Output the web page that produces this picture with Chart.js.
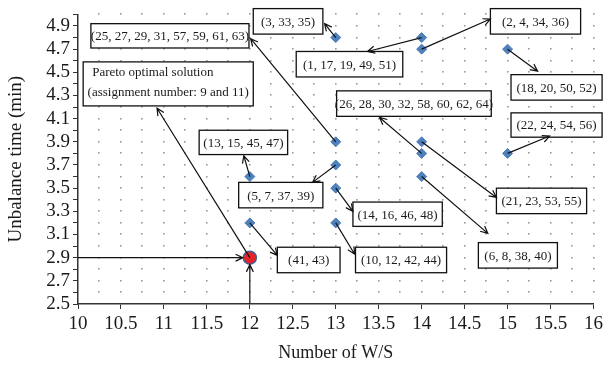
<!DOCTYPE html>
<html>
<head>
<meta charset="utf-8">
<script src="https://cdn.jsdelivr.net/npm/chart.js@4.4.0/dist/chart.umd.min.js"></script>
<style>
  html, body { margin: 0; padding: 0; background: #fff; }
</style>
</head>
<body>
<canvas id="chart" width="607" height="368"></canvas>
<script>
// ============ 数据 ============
// 每个菱形点：工作站数量 / 不平衡时间 / 对应的分配编号
const wsCounts  = [13, 13, 14, 14, 15, 14, 15, 12, 13, 13, 13, 12, 14, 14];
const unbalance = [4.8, 3.9, 4.8, 4.7, 4.7, 3.8, 3.8, 3.6, 3.7, 3.5, 3.2, 3.2, 3.9, 3.6];
const assignLabels = [
  "(3, 33, 35)",
  "(25, 27, 29, 31, 57, 59, 61, 63)",
  "(1, 17, 19, 49, 51)",
  "(2, 4, 34, 36)",
  "(18, 20, 50, 52)",
  "(26, 28, 30, 32, 58, 60, 62, 64)",
  "(22, 24, 54, 56)",
  "(13, 15, 45, 47)",
  "(5, 7, 37, 39)",
  "(14, 16, 46, 48)",
  "(10, 12, 42, 44)",
  "(41, 43)",
  "(21, 23, 53, 55)",
  "(6, 8, 38, 40)"
];

// Pareto 最优解
const paretoWs = [12];
const paretoUnbalance = [2.9];
const paretoLabel = ["Pareto optimal solution", "(assignment number: 9 and 11)"];

// 坐标轴
const xTicks = [10, 10.5, 11, 11.5, 12, 12.5, 13, 13.5, 14, 14.5, 15, 15.5, 16];
const yTickLabels = [2.5, 2.7, 2.9, 3.1, 3.3, 3.5, 3.7, 3.9, 4.1, 4.3, 4.5, 4.7, 4.9];

// ============ 标注框布局（数据坐标：x1, x2, yTop, yBottom / 箭头终点） ============
const calloutBoxes = [
  [12.04, 12.85, 5.05, 4.83],
  [10.15, 11.99, 4.92, 4.71],
  [12.54, 13.78, 4.68, 4.46],
  [14.80, 15.85, 5.05, 4.83],
  [15.04, 16.10, 4.48, 4.26],
  [13.01, 14.81, 4.34, 4.12],
  [15.04, 16.10, 4.15, 3.94],
  [11.41, 12.44, 4.00, 3.79],
  [11.87, 12.85, 3.55, 3.33],
  [13.20, 14.24, 3.38, 3.17],
  [13.23, 14.29, 2.99, 2.77],
  [12.32, 13.05, 2.99, 2.77],
  [14.87, 15.92, 3.50, 3.28],
  [14.66, 15.58, 3.03, 2.81]
];
const calloutTips = [
  [12.87, 4.92], [12.01, 4.79], [13.37, 4.68], [14.80, 4.96], [15.35, 4.51],
  [13.51, 4.11], [15.49, 3.95], [11.93, 3.78], [12.73, 3.55], [13.20, 3.30],
  [13.22, 2.93], [12.32, 2.92], [14.87, 3.42], [14.77, 3.11]
];
const paretoBox = [10.06, 12.04, 4.59, 4.21];
const paretoTip = [10.92, 4.19];

const SERIF = "'Liberation Serif', 'DejaVu Serif', serif";

// 画箭头（开口 V 形）
function arrow(ctx, x1, y1, x2, y2) {
  const a = Math.atan2(y2 - y1, x2 - x1);
  const len = 8, spread = 0.45;
  ctx.beginPath();
  ctx.moveTo(x1, y1);
  ctx.lineTo(x2, y2);
  ctx.moveTo(x2 - len * Math.cos(a - spread), y2 - len * Math.sin(a - spread));
  ctx.lineTo(x2, y2);
  ctx.lineTo(x2 - len * Math.cos(a + spread), y2 - len * Math.sin(a + spread));
  ctx.stroke();
}

function drawBox(ctx, x, y, b) {
  const l = x.getPixelForValue(b[0]), r = x.getPixelForValue(b[1]);
  const t = y.getPixelForValue(b[2]), btm = y.getPixelForValue(b[3]);
  ctx.fillStyle = "#fff";
  ctx.fillRect(l, t, r - l, btm - t);
  ctx.strokeStyle = "#111";
  ctx.lineWidth = 1.3;
  ctx.strokeRect(l, t, r - l, btm - t);
  return { l, r, t, btm };
}

// 点状网格
const dotGrid = {
  id: "dotGrid",
  beforeDatasetsDraw(chart) {
    const { ctx, scales: { x, y } } = chart;
    ctx.save();
    ctx.fillStyle = "#9a9a9a";
    for (let i = 1; i <= 24; i++) {
      const px = x.getPixelForValue(10 + i * 0.25);
      for (let j = 1; j <= 25; j++) {
        const py = y.getPixelForValue(2.5 + j * 0.1);
        ctx.fillRect(Math.round(px) - 1, Math.round(py) - 1, 1.6, 1.6);
      }
    }
    ctx.restore();
  }
};

// 标注框与箭头
const callouts = {
  id: "callouts",
  afterDatasetsDraw(chart) {
    const { ctx, scales: { x, y } } = chart;
    ctx.save();
    ctx.font = "13px " + SERIF;
    ctx.textBaseline = "middle";

    calloutBoxes.forEach((b, i) => {
      const r = drawBox(ctx, x, y, b);
      ctx.fillStyle = "#1a1a1a";
      ctx.textAlign = "center";
      ctx.fillText(assignLabels[i], (r.l + r.r) / 2, (r.t + r.btm) / 2 + 1);
    });

    const pb = drawBox(ctx, x, y, paretoBox);
    ctx.fillStyle = "#1a1a1a";
    ctx.textAlign = "left";
    ctx.fillText(paretoLabel[0], pb.l + 9, pb.t + 11);
    ctx.textAlign = "center";
    ctx.fillText(paretoLabel[1], (pb.l + pb.r) / 2, pb.t + 31);

    ctx.strokeStyle = "#111";
    ctx.lineWidth = 1.2;
    calloutTips.forEach((tip, i) => {
      arrow(ctx,
        x.getPixelForValue(wsCounts[i]), y.getPixelForValue(unbalance[i]),
        x.getPixelForValue(tip[0]), y.getPixelForValue(tip[1]));
    });

    const px = x.getPixelForValue(paretoWs[0]);
    const py = y.getPixelForValue(paretoUnbalance[0]);
    arrow(ctx, px, py, x.getPixelForValue(paretoTip[0]), y.getPixelForValue(paretoTip[1]));
    arrow(ctx, chart.chartArea.left, py, px - 7, py);
    arrow(ctx, px, chart.chartArea.bottom, px, py + 7);
    ctx.restore();
  }
};

new Chart(document.getElementById("chart"), {
  type: "scatter",
  data: {
    datasets: [
      {
        data: wsCounts.map((v, i) => ({ x: v, y: unbalance[i] })),
        pointStyle: "rectRot",
        radius: 5,
        backgroundColor: "#4f81bd",
        borderColor: "#4a7ab5",
        borderWidth: 1
      },
      {
        data: paretoWs.map((v, i) => ({ x: v, y: paretoUnbalance[i] })),
        pointStyle: "circle",
        radius: 6.5,
        backgroundColor: "#e52429",
        borderColor: "#3d5f96",
        borderWidth: 1.5
      }
    ]
  },
  options: {
    responsive: false,
    animation: false,
    devicePixelRatio: 1,
    layout: { padding: { top: 9, right: 4, left: 0, bottom: 0 } },
    plugins: { legend: { display: false }, tooltip: { enabled: false } },
    scales: {
      x: {
        type: "linear",
        min: xTicks[0],
        max: xTicks[xTicks.length - 1],
        afterBuildTicks: s => { s.ticks = xTicks.map(v => ({ value: v })); },
        afterFit: s => { s.height = 64; },
        ticks: {
          autoSkip: false, maxRotation: 0, padding: 4,
          color: "#1a1a1a", font: { family: SERIF, size: 19 },
          callback: v => String(v)
        },
        grid: { drawOnChartArea: false, drawTicks: true, tickLength: 5, tickColor: "#333" },
        border: { color: "#333", width: 1.5 },
        title: { display: true, text: "Number of W/S", color: "#1a1a1a",
                 font: { family: SERIF, size: 18 }, padding: { top: 2 } }
      },
      y: {
        min: 2.5,
        max: 5.0,
        afterFit: s => { s.width = 78; },
        ticks: {
          stepSize: 0.1, autoSkip: false, padding: 3,
          color: "#1a1a1a", font: { family: SERIF, size: 19 },
          callback: v => {
            const t = Math.round(v * 10) / 10;
            return yTickLabels.some(k => Math.abs(k - t) < 1e-6) ? t.toFixed(1) : "";
          }
        },
        grid: { drawOnChartArea: false, drawTicks: true, tickLength: 5, tickColor: "#333" },
        border: { color: "#333", width: 1.5 },
        title: { display: true, text: "Unbalance time (min)", color: "#1a1a1a",
                 font: { family: SERIF, size: 19 }, padding: { top: 5, bottom: 0 } }
      }
    }
  },
  plugins: [dotGrid, callouts]
});
</script>
</body>
</html>
